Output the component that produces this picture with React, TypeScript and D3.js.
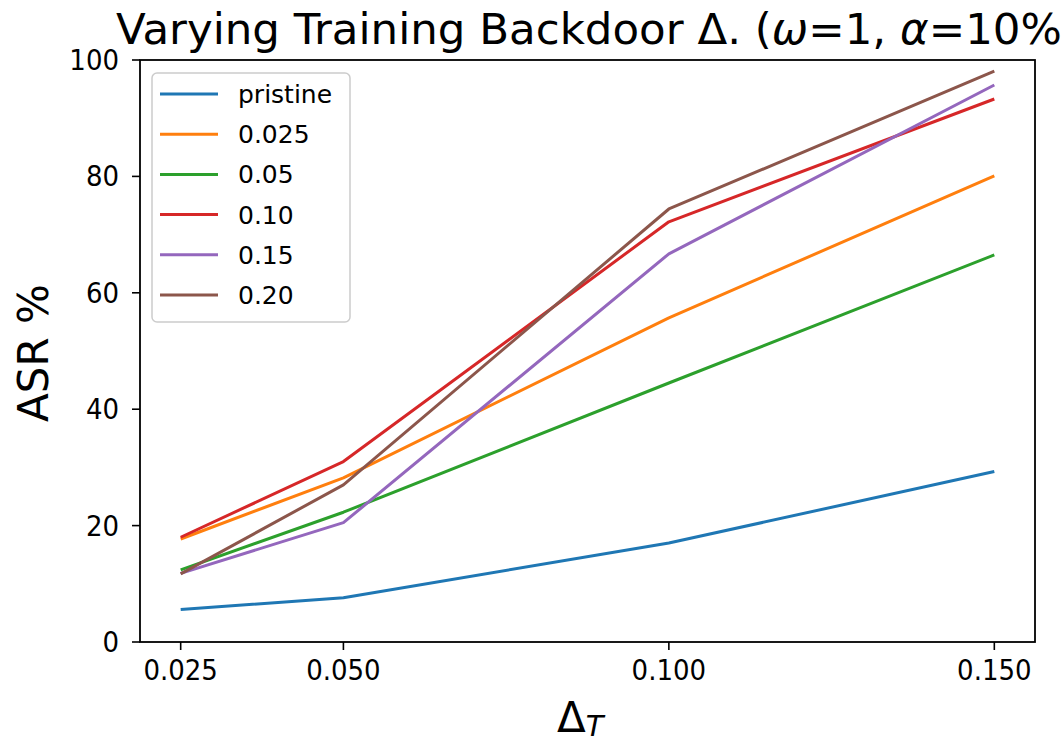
import React from "react";
import * as d3 from "d3";

const xValues = [0.025, 0.05, 0.1, 0.15];
const xTicks = [0.025, 0.05, 0.1, 0.15];
const yTicks = [0, 20, 40, 60, 80, 100];
const seriesNames = ["pristine", "0.025", "0.05", "0.10", "0.15", "0.20"];
const pristine = [5.6, 7.6, 17.0, 29.3];
const s0025 = [17.7, 28.2, 55.7, 80.1];
const s005 = [12.4, 22.3, 44.5, 66.5];
const s010 = [18.0, 31.0, 72.2, 93.3];
const s015 = [11.8, 20.5, 66.7, 95.7];
const s020 = [11.7, 27.0, 74.4, 98.1];
const seriesValues = [pristine, s0025, s005, s010, s015, s020];
const colors = ["#1f77b4", "#ff7f0e", "#2ca02c", "#d62728", "#9467bd", "#8c564b"];

const W = 1061, H = 742;
const L = 140, R = 1035, T = 60, B = 642;
const FONT = "DejaVu Sans";

function SText({ x, y, size, anchor = "start", children, rotate = 0, sx = 1 }: any) {
  return (
    <g transform={`translate(${x},${y}) rotate(${rotate}) scale(${sx},1)`}>
      <text x={0} y={0} fontSize={size} fontFamily={FONT} textAnchor={anchor} fill="#000">{children}</text>
    </g>
  );
}

export default function App() {
  const x = d3.scaleLinear().domain([0.01875, 0.15625]).range([L, R]);
  const y = d3.scaleLinear().domain([0, 100]).range([B, T]);
  const line = d3.line<number>().x((_, i) => x(xValues[i])).y((v) => y(v));
  return (
    <svg width={W} height={H} style={{ position: "absolute", left: 0, top: 0, background: "#fff" }}>
      <rect x={0} y={0} width={W} height={H} fill="#fff" />
      {seriesValues.map((s, i) => (
        <path key={i} d={line(s) || ""} fill="none" stroke={colors[i]} strokeWidth={3} strokeLinejoin="round" />
      ))}
      <rect x={L} y={T} width={R - L} height={B - T} fill="none" stroke="#000" strokeWidth={1.8} />
      {xTicks.map((t) => (
        <g key={t}>
          <line x1={x(t)} x2={x(t)} y1={B} y2={B + 8} stroke="#000" strokeWidth={1.6} />
          <SText x={x(t)} y={680} size={28} anchor="middle" sx={0.93}>{d3.format(".3f")(t)}</SText>
        </g>
      ))}
      {yTicks.map((t) => (
        <g key={t}>
          <line x1={L - 8} x2={L} y1={y(t)} y2={y(t)} stroke="#000" strokeWidth={1.6} />
          <SText x={L - 21} y={y(t) + 10} size={28} anchor="end" sx={0.93}>{String(t)}</SText>
        </g>
      ))}
      <g>
        <rect x={152} y={73} width={198} height={249} rx={5} fill="#fff" fillOpacity={0.8} stroke="#ccc" strokeWidth={1.5} />
        {seriesNames.map((n, i) => (
          <g key={n}>
            <line x1={160} x2={218} y1={94 + i * 40.2} y2={94 + i * 40.2} stroke={colors[i]} strokeWidth={3} />
            <SText x={238} y={94 + i * 40.2 + 9} size={25}>{n}</SText>
          </g>
        ))}
      </g>
      <SText x={116} y={44} size={43.5}>{"Varying Training Backdoor Δ. ("}<tspan fontStyle="italic">ω</tspan>{"=1, "}<tspan fontStyle="italic">α</tspan>{"=10%)"}</SText>
      <SText x={48} y={353} size={42} anchor="middle" rotate={-90}>ASR %</SText>
      <SText x={557} y={732} size={42}>Δ<tspan fontStyle="italic" fontSize={29} dy={4}>T</tspan></SText>
    </svg>
  );
}
